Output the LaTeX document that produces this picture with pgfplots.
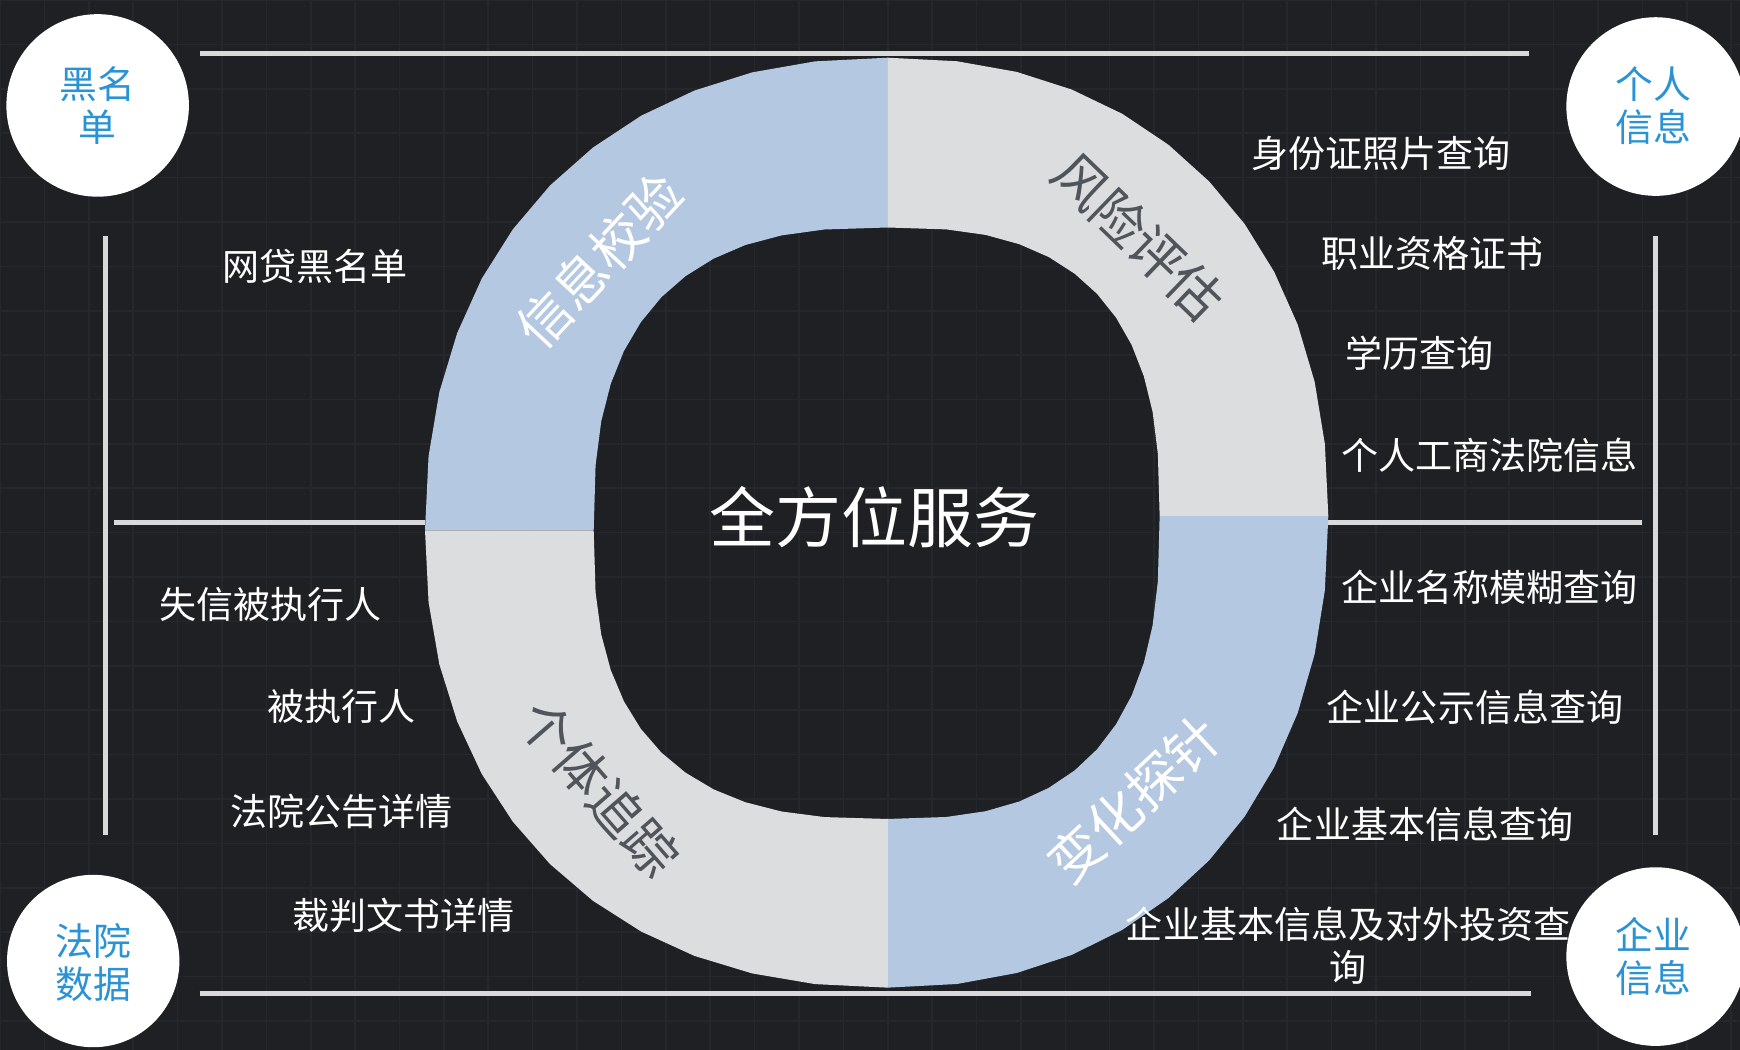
\documentclass[border=0pt]{standalone}
\usepackage{pgfplots}
\pgfplotsset{compat=1.18}
\usepackage{fontspec}
\setmainfont{Noto Sans CJK SC}

\definecolor{bgc}{HTML}{1E2023}
\definecolor{gridc}{HTML}{24272B}
\definecolor{qblue}{HTML}{B4C8E1}
\definecolor{qgray}{HTML}{DCDDDF}
\definecolor{darktxt}{HTML}{50555B}
\definecolor{circtxt}{HTML}{2A93D5}
\definecolor{linec}{HTML}{D9D9D9}

\begin{document}
\begin{tikzpicture}[
  txt/.style={text=white, font=\fontsize{9.5}{11}\selectfont, inner sep=0pt},
  ring/.style={font=\fontsize{13.6}{15}\selectfont, inner sep=0pt},
  circ/.style={text=circtxt, font=\fontsize{9.7}{11}\selectfont, align=center, inner sep=0pt},
]
\begin{axis}[
  width=15.68cm, height=9.46cm, scale only axis,
  xmin=0, xmax=1568, ymin=0, ymax=946, y dir=reverse,
  axis line style={draw=none}, tick style={draw=none},
  xtick={0,40,...,1560}, ytick={0,40,...,920},
  xticklabels={}, yticklabels={},
  grid=major, major grid style={color=gridc, line width=0.4pt},
  axis background/.style={fill=bgc},
  clip marker paths=true,
]

% frame lines
\addplot[linec, line width=1.3pt] coordinates {(180,48) (1378,48)};
\addplot[linec, line width=1.3pt] coordinates {(180,895) (1380,895)};
\addplot[linec, line width=1.3pt] coordinates {(95,213) (95,752)};
\addplot[linec, line width=1.3pt] coordinates {(1492,213) (1492,752)};
\addplot[linec, line width=1.3pt] coordinates {(103,471) (383,471)};
\addplot[linec, line width=1.3pt] coordinates {(1197,471) (1480,471)};

% ring, top left
\addplot[fill=qblue, draw=none] coordinates {
  (383,478) (386.2,411.1) (395.9,353.3) (412.0,300.1) (434.1,251.1) (462.1,206.7)
  (495.7,167.1) (534.4,132.9) (577.9,104.2) (625.8,81.6) (677.9,65.2) (734.5,55.3) (800,52)
  (800,205) (743.0,206.8) (704.4,212.1) (671.6,220.8) (643.0,233.1) (617.8,248.8)
  (596.0,267.8) (577.5,290.3) (562.3,316.2) (550.4,345.8) (541.8,379.6) (536.7,419.3) (535,478)
};
% ring, top right
\addplot[fill=qgray, draw=none] coordinates {
  (800,52) (862.4,55.2) (916.2,64.8) (965.8,80.7) (1011.4,102.6) (1052.9,130.4)
  (1089.7,163.6) (1121.7,202.0) (1148.3,245.1) (1169.4,292.5) (1184.7,344.1) (1193.9,400.1) (1197,465)
  (1045,465) (1043.4,409.1) (1038.7,371.3) (1030.8,339.1) (1019.8,310.9) (1005.7,286.2)
  (988.6,264.8) (968.5,246.7) (945.2,231.7) (918.7,220.1) (888.3,211.7) (852.7,206.7) (800,205)
};
% ring, bottom right
\addplot[fill=qblue, draw=none] coordinates {
  (1197,465) (1193.9,531.8) (1184.7,589.4) (1169.4,642.5) (1148.3,691.3) (1121.7,735.7)
  (1089.7,775.2) (1052.9,809.3) (1011.4,837.9) (965.8,860.5) (916.2,876.8) (862.4,886.7) (800,890)
  (800,738) (852.7,736.2) (888.3,731.0) (918.7,722.2) (945.2,709.9) (968.5,694.2)
  (988.6,675.2) (1005.7,652.7) (1019.8,626.8) (1030.8,597.2) (1038.7,563.4) (1043.4,523.7) (1045,465)
};
% ring, bottom left
\addplot[fill=qgray, draw=none] coordinates {
  (800,890) (734.5,886.8) (677.9,877.2) (625.8,861.4) (577.9,839.5) (534.4,811.8)
  (495.7,778.7) (462.1,740.4) (434.1,697.4) (412.0,650.1) (395.9,598.6) (386.2,542.7) (383,478)
  (535,478) (536.7,533.9) (541.8,571.8) (550.4,603.9) (562.3,632.1) (577.5,656.8)
  (596.0,678.2) (617.8,696.3) (643.0,711.3) (671.6,722.9) (704.4,731.3) (743.0,736.3) (800,738)
};

% corner circles
\addplot[white, only marks, mark=*, mark size=23.2pt, mark options={fill=white, draw=white}] coordinates {(88,95)};
\addplot[white, only marks, mark=*, mark size=22.7pt, mark options={fill=white, draw=white}] coordinates {(1492,96) (1492,862)};
\addplot[white, only marks, mark=*, mark size=21.9pt, mark options={fill=white, draw=white}] coordinates {(84,866)};

% ring labels
\node[ring, text=white, rotate=47] at (axis cs:540,235) {信息校验};
\node[ring, text=darktxt, rotate=-44] at (axis cs:1026,213) {风险评估};
\node[ring, text=darktxt, rotate=-49] at (axis cs:540,710) {个体追踪};
\node[ring, text=white, rotate=43] at (axis cs:1022,720) {变化探针};

% centre
\node[text=white, font=\fontsize{16.9}{19}\selectfont, inner sep=0pt] at (axis cs:788,466) {全方位服务};

% circle captions
\node[circ] at (axis cs:88,95) {黑名\\单};
\node[circ] at (axis cs:1490,95) {个人\\信息};
\node[circ] at (axis cs:84,867) {法院\\数据};
\node[circ] at (axis cs:1490,862) {企业\\信息};

% left items
\node[txt, anchor=west] at (axis cs:200,240) {网贷黑名单};
\node[txt, anchor=west] at (axis cs:143,545) {失信被执行人};
\node[txt, anchor=west] at (axis cs:240,637) {被执行人};
\node[txt, anchor=west] at (axis cs:207,731) {法院公告详情};
\node[txt, anchor=west] at (axis cs:263,825) {裁判文书详情};

% right items
\node[txt, anchor=west] at (axis cs:1127,138) {身份证照片查询};
\node[txt, anchor=west] at (axis cs:1190,228) {职业资格证书};
\node[txt, anchor=west] at (axis cs:1212,318) {学历查询};
\node[txt, anchor=west] at (axis cs:1208,410) {个人工商法院信息};
\node[txt, anchor=west] at (axis cs:1208,529) {企业名称模糊查询};
\node[txt, anchor=west] at (axis cs:1195,637) {企业公示信息查询};
\node[txt, anchor=west] at (axis cs:1150,743) {企业基本信息查询};
\node[txt, align=center] at (axis cs:1215,852) {企业基本信息及对外投资查\\询};

\end{axis}
\pgfresetboundingbox
\path[use as bounding box] (current axis.south west) rectangle (current axis.north east);
\end{tikzpicture}
\end{document}
